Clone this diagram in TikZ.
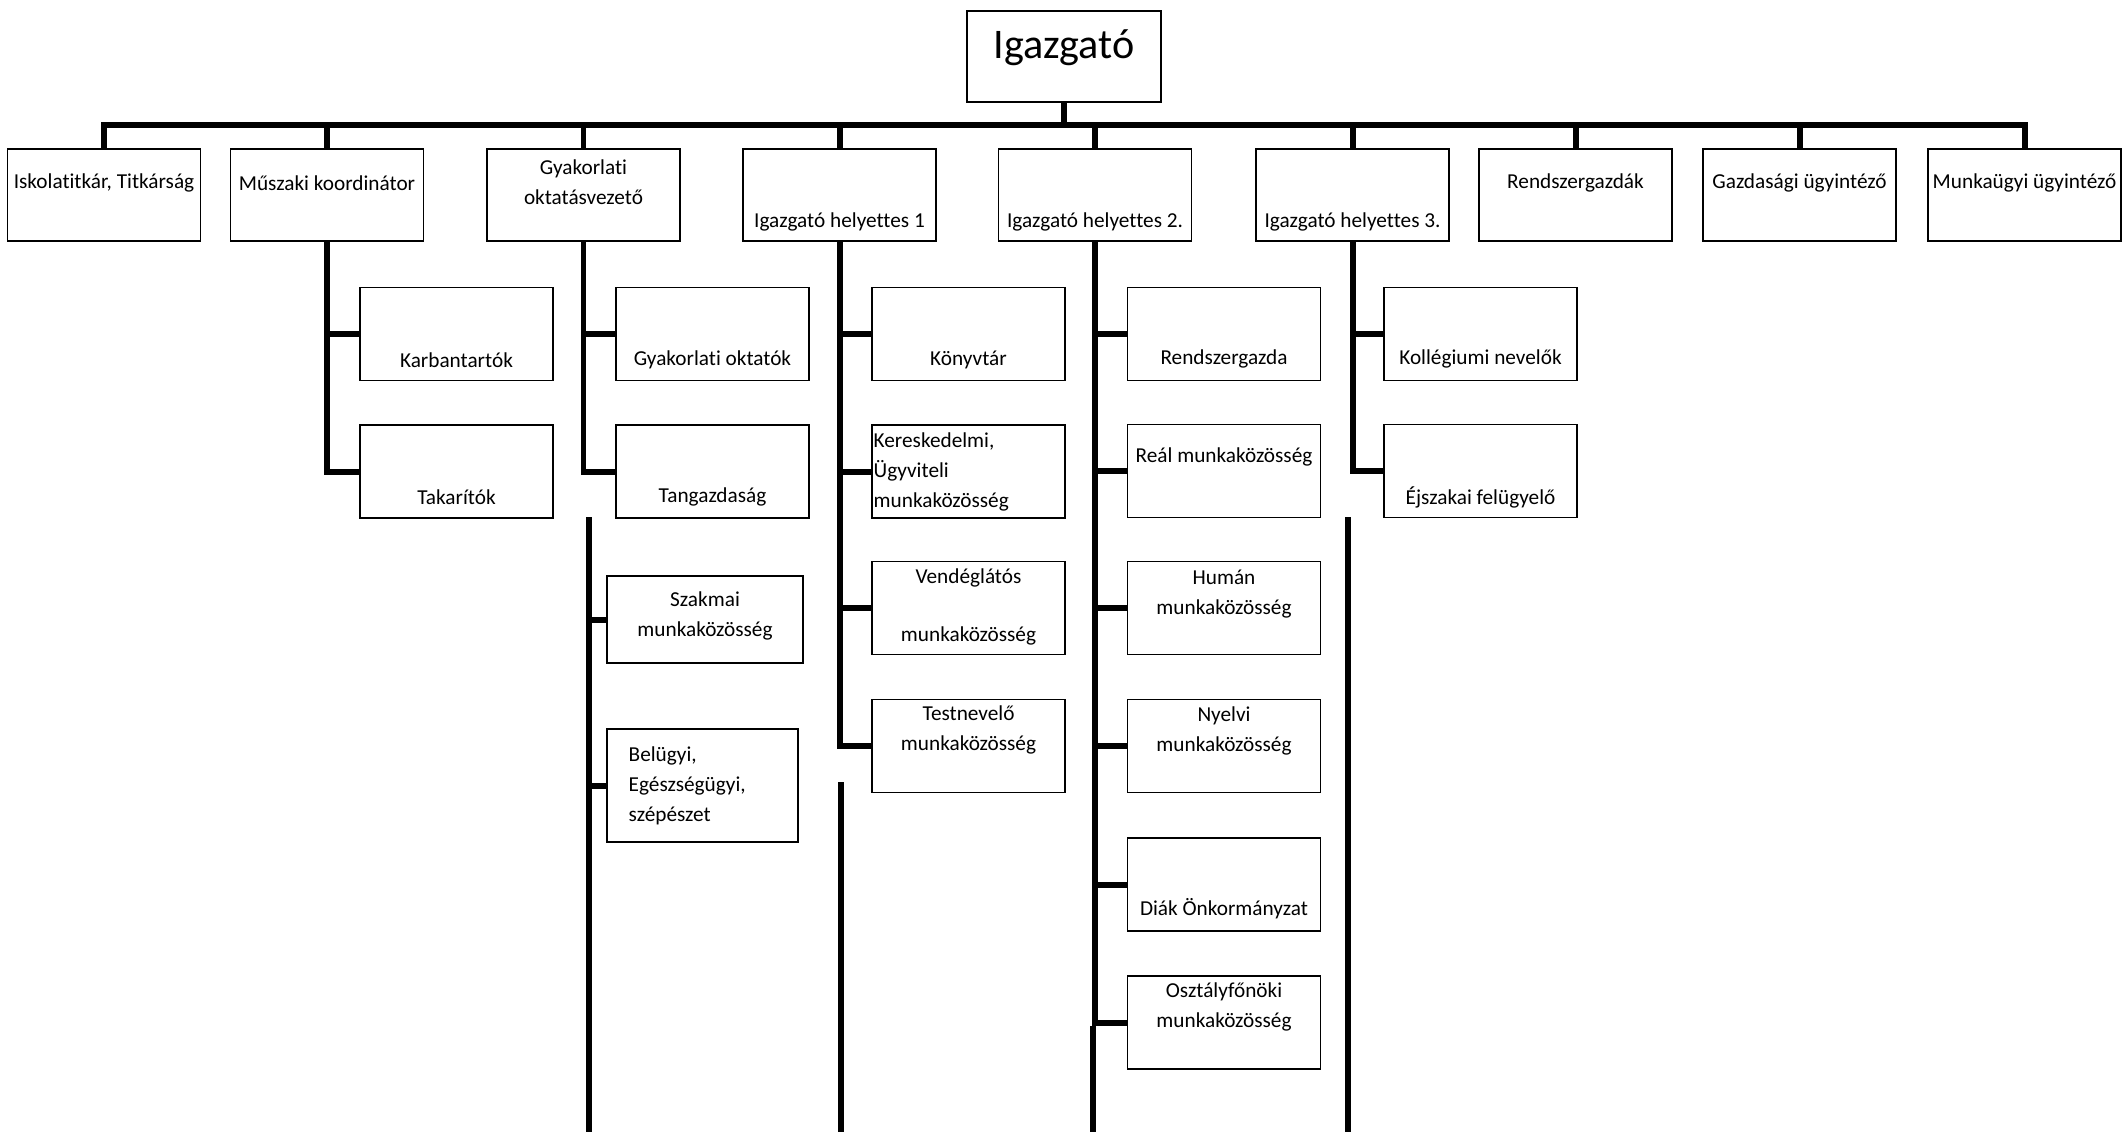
\documentclass[tikz,border=0pt]{standalone}
\usepackage{fontspec}
\setmainfont{Carlito}[Ligatures=NoCommon]
\newcommand{\orgfont}{\fontsize{6.05pt}{8.5pt}\selectfont}
\tikzset{
  box/.style={draw, line width=0.55pt, minimum width=19.3mm, minimum height=9.3mm, inner sep=0pt},
  lbl/.style={font=\orgfont, align=center, inner sep=0pt},
  wire/.style={line width=1.7pt, line join=miter},
}
\begin{document}
\begin{tikzpicture}[x=0.1mm,y=-0.1mm]
\useasboundingbox (0,0) rectangle (2123,1132);

\node[box, minimum width=19.4mm, minimum height=9.1mm] (ig) at (1064,56.5) {};
\node[lbl, font=\fontsize{12pt}{14pt}\selectfont] (ig-t) at (1064,48) {Igazgató};

% first row
\node[box, minimum height=9.2mm] (isk) at (104,195) {};
\node[box, minimum height=9.2mm] (musz) at (327,195) {};
\node[box, minimum height=9.2mm] (gyak) at (583.5,195) {};
\node[box, minimum height=9.2mm] (h1) at (839.5,195) {};
\node[box, minimum height=9.2mm] (h2) at (1095,195) {};
\node[box, minimum height=9.2mm] (h3) at (1352.5,195) {};
\node[box, minimum height=9.2mm] (rend) at (1575.5,195) {};
\node[box, minimum height=9.2mm] (gazd) at (1799.5,195) {};
\node[box, minimum height=9.2mm] (munk) at (2024.5,195) {};

\node[lbl] (isk-t) at (104,183) {Iskolatitkár, Titkárság};
\node[lbl] (musz-t) at (327,183) {Műszaki koordinátor};
\node[lbl] (gyak-t) at (583.5,182) {Gyakorlati\\oktatásvezető};
\node[lbl] (h1-t) at (839.5,222) {Igazgató helyettes 1};
\node[lbl] (h2-t) at (1095,222) {Igazgató helyettes 2.};
\node[lbl] (h3-t) at (1352.5,222) {Igazgató helyettes 3.};
\node[lbl] (rend-t) at (1575.5,183) {Rendszergazdák};
\node[lbl] (gazd-t) at (1799.5,183) {Gazdasági ügyintéző};
\node[lbl] (munk-t) at (2024.5,183) {Munkaügyi ügyintéző};

% second row
\node[box] (kar) at (456.5,334) {};
\node[box] (tak) at (456.5,471.5) {};
\node[lbl] (kar-t) at (456.5,360) {Karbantartók};
\node[lbl] (tak-t) at (456.5,497) {Takarítók};

\node[box] (goy) at (712.5,334) {};
\node[box] (tang) at (712.5,471.5) {};
\node[box, minimum width=19.6mm, minimum height=8.7mm] (szak) at (705,619.5) {};
\node[box, minimum width=19.1mm, minimum height=11.3mm] (bel) at (702.5,785.5) {};
\node[lbl] (goy-t) at (712.5,360) {Gyakorlati oktatók};
\node[lbl] (tang-t) at (712.5,497) {Tangazdaság};
\node[lbl] (szak-t) at (705,616) {Szakmai\\munkaközösség};
\node[lbl, align=left, anchor=west] (bel-t) at (628,786) {Belügyi,\\Egészségügyi,\\szépészet};

\node[box] (kony) at (968.5,334) {};
\node[box] (ker) at (968.5,471.5) {};
\node[box] (vend) at (968.5,608) {};
\node[box] (test) at (968.5,746) {};
\node[lbl] (kony-t) at (968.5,360) {Könyvtár};
\node[lbl, align=left, anchor=west] (ker-t) at (873,472) {Kereskedelmi,\\Ügyviteli\\munkaközösség};
\node[lbl] (vend-t) at (968.5,607) {Vendéglátós\\[2.85mm]munkaközösség};
\node[lbl] (test-t) at (968.5,730) {Testnevelő\\munkaközösség};

\node[box] (rsz) at (1224,334) {};
\node[box] (real) at (1224,471) {};
\node[box] (hum) at (1224,608) {};
\node[box] (nyel) at (1224,746) {};
\node[box] (diak) at (1224,884.5) {};
\node[box] (oszt) at (1224,1022.5) {};
\node[lbl] (rsz-t) at (1224,359) {Rendszergazda};
\node[lbl] (real-t) at (1224,457) {Reál munkaközösség};
\node[lbl] (hum-t) at (1224,594) {Humán\\munkaközösség};
\node[lbl] (nyel-t) at (1224,731) {Nyelvi\\munkaközösség};
\node[lbl] (diak-t) at (1224,909) {Diák Önkormányzat};
\node[lbl] (oszt-t) at (1224,1007) {Osztályfőnöki\\munkaközösség};

\node[box] (koll) at (1480.5,334) {};
\node[box] (ejsz) at (1480.5,471) {};
\node[lbl] (koll-t) at (1480.5,359) {Kollégiumi nevelők};
\node[lbl] (ejsz-t) at (1480.5,497) {Éjszakai felügyelő};

% bus
\coordinate (bus) at (1064,125);
\path[draw,wire] (ig) -- (bus);
\path[draw,wire] (isk.north) -- (isk.north |- bus) -- (munk.north |- bus) -- (munk.north);
\foreach \n in {musz,gyak,h1,h2,h3,rend,gazd}
  \path[draw,wire] (\n.north) -- (\n.north |- bus);

% columns
\path[draw,wire] (musz.south) |- (tak.west);
\path[draw,wire] (musz.south |- kar.west) -- (kar.west);

\path[draw,wire] (gyak.south) |- (tang.west);
\path[draw,wire] (gyak.south |- goy.west) -- (goy.west);

\path[draw,wire] (h1.south) |- (test.west);
\foreach \n in {kony,ker,vend}
  \path[draw,wire] (h1.south |- \n.west) -- (\n.west);

\path[draw,wire] (h2.south) |- (oszt.west);
\foreach \n in {rsz,real,hum,nyel,diak}
  \path[draw,wire] (h2.south |- \n.west) -- (\n.west);

\path[draw,wire] (h3.south) |- (ejsz.west);
\path[draw,wire] (h3.south |- koll.west) -- (koll.west);

% loose lines
\coordinate (ga) at (589,517);
\coordinate (gb) at (589,1132);
\path[draw,wire] (ga) -- (gb);
\path[draw,wire] (ga |- szak.west) -- (szak.west);
\path[draw,wire] (ga |- bel.west) -- (bel.west);

\coordinate (h1a) at (841,782);
\coordinate (h1b) at (841,1132);
\path[draw,wire] (h1a) -- (h1b);

\coordinate (h2a) at (1093,1026);
\coordinate (h2b) at (1093,1132);
\path[draw,wire] (h2a) -- (h2b);

\coordinate (h3a) at (1348,517);
\coordinate (h3b) at (1348,1132);
\path[draw,wire] (h3a) -- (h3b);
\end{tikzpicture}
\end{document}
